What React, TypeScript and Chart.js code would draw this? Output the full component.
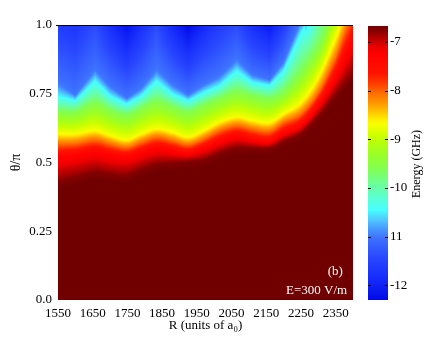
import React, { useEffect, useRef } from "react";
import { Chart, registerables } from "chart.js";

Chart.register(...registerables);

const FONT = "'Liberation Serif', 'Times New Roman', Times, serif";

// ---- axes / ticks ----
const xTickValues = [1550, 1650, 1750, 1850, 1950, 2050, 2150, 2250, 2350];
const yTickValues = [0, 0.25, 0.5, 0.75, 1];
const yTickLabels = ["0.0", "0.25", "0.5", "0.75", "1.0"];
const cbTickValues = [-7, -8, -9, -10, -11, -12];
const cbTickLabels = ["-7", "-8", "-9", "-10", "11", "-12"];

// ---- field data: contour positions (theta/pi) of energy levels, read per R ----
const rSamples = [1550, 1600, 1657, 1700, 1748, 1790, 1834, 1880, 1925, 1970, 2015, 2065, 2110, 2160, 2200, 2250, 2300, 2350, 2400];
const levelValues = [-6.75, -7.3, -8.1, -8.7, -9.6, -10.5, -11.0];
const thetaLevel1 = [0.429, 0.444, 0.462, 0.455, 0.451, 0.473, 0.491, 0.497, 0.503, 0.509, 0.533, 0.552, 0.552, 0.552, 0.576, 0.606, 0.667, 0.745, 0.818];
const thetaLevel2 = [0.521, 0.527, 0.539, 0.527, 0.521, 0.536, 0.552, 0.543, 0.533, 0.552, 0.576, 0.596, 0.582, 0.576, 0.606, 0.636, 0.709, 0.812, 0.945];
const thetaLevel3 = [0.570, 0.572, 0.584, 0.570, 0.557, 0.576, 0.594, 0.582, 0.567, 0.588, 0.618, 0.636, 0.624, 0.616, 0.648, 0.679, 0.757, 0.885, null];
const thetaLevel4 = [0.606, 0.606, 0.618, 0.600, 0.584, 0.606, 0.624, 0.612, 0.594, 0.618, 0.648, 0.667, 0.655, 0.648, 0.679, 0.721, 0.812, 0.957, null];
const thetaLevel5 = [0.685, 0.685, 0.715, 0.691, 0.673, 0.697, 0.721, 0.703, 0.685, 0.709, 0.733, 0.757, 0.745, 0.733, 0.757, 0.829, 0.921, null, null];
const thetaLevel6 = [0.745, 0.727, 0.800, 0.745, 0.715, 0.745, 0.800, 0.752, 0.727, 0.757, 0.782, 0.836, 0.794, 0.782, 0.836, 0.975, null, null, null];
const thetaLevel7 = [0.788, 0.745, 0.836, 0.776, 0.733, 0.770, 0.836, 0.782, 0.745, 0.782, 0.812, 0.873, 0.818, 0.800, 0.865, null, null, null, null];
// R where a level leaves the top of the plot (theta = 1)
const levelExitR = [null, null, 2382, 2363, 2329, 2262, 2245];
// energy at theta/pi = 1 for each R sample
const topValues = [-11.6, -11.7, -11.4, -11.8, -12.2, -11.8, -11.4, -11.9, -12.3, -11.9, -11.6, -11.4, -11.8, -12.1, -11.6, -10.9, -10.0, -9.0, -7.7];

const levelThetas = [thetaLevel1, thetaLevel2, thetaLevel3, thetaLevel4, thetaLevel5, thetaLevel6, thetaLevel7];
// lower (warm) contours are smooth waves; the blue/cyan ones have cusps
const smoothLevels = [true, true, true, true, true, false, false];

// ---- colour map (energy -> rgb) ----
const cmapValues = [-12.3, -11.9, -11.45, -11.05, -10.85, -10.65, -10.45, -10.2, -9.9, -9.6, -9.25, -8.95, -8.7, -8.6, -8.45, -8.25, -8.05, -7.85, -7.65, -7.25, -7.1, -7.0, -6.9, -6.78, -6.65];
const cmapColors = [
  [0, 10, 230], [20, 40, 250], [40, 70, 255], [60, 110, 255], [70, 150, 255], [80, 200, 255],
  [70, 255, 255], [90, 255, 210], [110, 255, 150], [130, 255, 80], [160, 255, 30], [200, 255, 0],
  [245, 255, 0], [255, 240, 0], [255, 200, 0], [255, 150, 0], [255, 110, 0], [255, 60, 0],
  [255, 20, 0], [255, 0, 0], [235, 0, 0], [200, 0, 0], [175, 0, 0], [135, 0, 0], [112, 0, 0],
];
const cbMin = -12.3;
const cbMax = -6.65;

function lerp(a: number, b: number, t: number) { return a + (b - a) * t; }

function colorFor(v: number): number[] {
  if (v <= cmapValues[0]) return cmapColors[0];
  const n = cmapValues.length;
  if (v >= cmapValues[n - 1]) return cmapColors[n - 1];
  for (let i = 0; i < n - 1; i++) {
    if (v <= cmapValues[i + 1]) {
      const t = (v - cmapValues[i]) / (cmapValues[i + 1] - cmapValues[i]);
      const a = cmapColors[i], b = cmapColors[i + 1];
      return [lerp(a[0], b[0], t), lerp(a[1], b[1], t), lerp(a[2], b[2], t)];
    }
  }
  return cmapColors[n - 1];
}

function segment(R: number) {
  let i = 0;
  while (i < rSamples.length - 2 && R > rSamples[i + 1]) i++;
  return i;
}

function tangent(th: (number | null)[], i: number): number {
  const n = th.length;
  const prev = i > 0 && th[i - 1] != null ? i - 1 : i;
  const next = i < n - 1 && th[i + 1] != null ? i + 1 : i;
  if (prev === next) return 0;
  return ((th[next] as number) - (th[prev] as number)) / (rSamples[next] - rSamples[prev]);
}

function levelThetaAt(k: number, R: number): number | null {
  const th = levelThetas[k];
  const i = segment(R);
  const r0 = rSamples[i], r1 = rSamples[i + 1];
  const a = th[i], b = th[i + 1];
  if (a == null) return null;
  if (b != null) {
    const t = Math.max(0, Math.min(1, (R - r0) / (r1 - r0)));
    if (!smoothLevels[k]) return lerp(a, b, t);
    const h = r1 - r0;
    const m0 = tangent(th, i), m1 = tangent(th, i + 1);
    const t2 = t * t, t3 = t2 * t;
    return (2 * t3 - 3 * t2 + 1) * a + (t3 - 2 * t2 + t) * h * m0 + (-2 * t3 + 3 * t2) * b + (t3 - t2) * h * m1;
  }
  const ex = levelExitR[k];
  if (ex == null || R > ex) return null;
  return lerp(a, 1, Math.max(0, (R - r0) / (ex - r0)));
}

function columnProfile(R: number): number[][] {
  const pts: number[][] = [];
  for (let k = 0; k < levelValues.length; k++) {
    const th = levelThetaAt(k, R);
    if (th != null && th < 1) {
      const prevTh = pts.length ? pts[pts.length - 1][0] : -1;
      pts.push([Math.max(th, prevTh + 0.001), levelValues[k]]);
    }
  }
  const i = segment(R);
  const t = Math.max(0, Math.min(1, (R - rSamples[i]) / (rSamples[i + 1] - rSamples[i])));
  let top = lerp(topValues[i], topValues[i + 1], t);
  const lastV = pts.length ? pts[pts.length - 1][1] : levelValues[0];
  top = Math.min(top, lastV - 0.05);
  pts.push([1, top]);
  return pts;
}

function valueAt(pts: number[][], th: number) {
  if (th <= pts[0][0]) return pts[0][1] + (pts[0][0] - th) * 4;
  for (let j = 0; j < pts.length - 1; j++) {
    if (th <= pts[j + 1][0]) {
      const t = (th - pts[j][0]) / (pts[j + 1][0] - pts[j][0]);
      return lerp(pts[j][1], pts[j + 1][1], t);
    }
  }
  return pts[pts.length - 1][1];
}

const heatmapPlugin = {
  id: "heatmap",
  beforeDatasetsDraw(chart: any) {
    const { ctx, chartArea } = chart;
    const xs = chart.scales.x, ys = chart.scales.y;
    const left = Math.round(chartArea.left), top = Math.round(chartArea.top);
    const w = Math.round(chartArea.right) - left;
    const h = Math.round(chartArea.bottom) - top;
    const off = document.createElement("canvas");
    off.width = w; off.height = h;
    const octx = off.getContext("2d")!;
    const img = octx.createImageData(w, h);
    for (let i = 0; i < w; i++) {
      const R = xs.getValueForPixel(left + i + 0.5);
      const prof = columnProfile(R);
      for (let j = 0; j < h; j++) {
        const th = ys.getValueForPixel(top + j + 0.5);
        const c = colorFor(valueAt(prof, th));
        const p = (j * w + i) * 4;
        img.data[p] = c[0]; img.data[p + 1] = c[1]; img.data[p + 2] = c[2]; img.data[p + 3] = 255;
      }
    }
    octx.putImageData(img, 0, 0);
    ctx.save();
    ctx.drawImage(off, left, top);
    ctx.fillStyle = "#000";
    ctx.fillRect(left - 2, top, w + 2, 1);
    ctx.restore();
  },
  afterDraw(chart: any) {
    const { ctx, chartArea } = chart;
    const y2 = chart.scales.y2;
    const xs = chart.scales.x, ys = chart.scales.y;
    ctx.save();
    const cbLeft = Math.round(chartArea.right) + 15;
    const cbW = 20;
    const pTop = Math.round(y2.getPixelForValue(cbMax)) + 1;
    const pBot = Math.round(y2.getPixelForValue(cbMin));
    for (let py = pTop; py < pBot; py++) {
      const c = colorFor(y2.getValueForPixel(py + 0.5));
      ctx.fillStyle = `rgb(${Math.round(c[0])},${Math.round(c[1])},${Math.round(c[2])})`;
      ctx.fillRect(cbLeft, py, cbW, 1);
    }
    ctx.fillStyle = "#000";
    cbTickValues.forEach((v) => {
      const py = Math.round(y2.getPixelForValue(v));
      ctx.fillRect(cbLeft, py, 3, 1);
      ctx.fillRect(cbLeft + cbW - 3, py, 3, 1);
    });
    ctx.font = `12px ${FONT}`;
    ctx.textAlign = "center";
    ctx.textBaseline = "middle";
    ctx.translate(cbLeft + 48.5, (y2.top + y2.bottom) / 2 + 1.5);
    ctx.rotate(-Math.PI / 2);
    ctx.fillText("Energy (GHz)", 0, 0);
    ctx.restore();

    ctx.save();
    ctx.fillStyle = "#fff";
    ctx.font = `13px ${FONT}`;
    ctx.textAlign = "right";
    ctx.textBaseline = "middle";
    ctx.fillText("(b)", xs.getPixelForValue(2371), ys.getPixelForValue(0.102));
    ctx.fillText("E=300 V/m", xs.getPixelForValue(2383), ys.getPixelForValue(0.033));
    ctx.restore();
  },
};

function zeroPad(s: any) {
  s.paddingTop = 0; s.paddingBottom = 0; s.paddingLeft = 0; s.paddingRight = 0;
}

export default function App() {
  const ref = useRef<HTMLCanvasElement>(null);
  useEffect(() => {
    const tickFont = { family: FONT, size: 13 };
    const chart = new Chart(ref.current!, {
      type: "scatter",
      data: { datasets: [{ data: [] }] },
      options: {
        animation: false,
        responsive: true,
        maintainAspectRatio: false,
        layout: { padding: { top: 25, left: 0, right: 0, bottom: 0 } },
        plugins: { legend: { display: false }, tooltip: { enabled: false } },
        scales: {
          x: {
            type: "linear",
            min: 1550,
            max: 2400,
            afterBuildTicks: (s: any) => { s.ticks = xTickValues.map((v) => ({ value: v })); },
            afterFit: (s: any) => { s.height = 37; zeroPad(s); },
            grid: { display: false, drawTicks: false },
            border: { display: false },
            ticks: { autoSkip: false, maxRotation: 0, color: "#000", font: tickFont, padding: 6, callback: (v: any) => String(v) },
            title: { display: true, text: "R (units of a\u2080)", color: "#000", font: tickFont, padding: { top: 0, bottom: 4 } },
          },
          y: {
            type: "linear",
            min: 0,
            max: 1,
            afterBuildTicks: (s: any) => { s.ticks = yTickValues.map((v) => ({ value: v })); },
            afterFit: (s: any) => { s.width = 58; zeroPad(s); },
            grid: { display: false, drawTicks: false },
            border: { display: false },
            ticks: { autoSkip: false, color: "#000", font: tickFont, padding: 6, callback: (_v: any, i: number) => yTickLabels[i] },
            title: { display: true, text: "\u03b8/\u03c0", color: "#000", font: { family: FONT, size: 14 }, padding: { top: 8, bottom: 0 } },
          },
          y2: {
            type: "linear",
            position: "right",
            min: cbMin,
            max: cbMax,
            afterBuildTicks: (s: any) => { s.ticks = cbTickValues.map((v) => ({ value: v })); },
            afterFit: (s: any) => { s.width = 94; zeroPad(s); },
            grid: { display: false, drawTicks: false },
            border: { display: false },
            ticks: { autoSkip: false, color: "#000", font: tickFont, padding: 37, callback: (_v: any, i: number) => cbTickLabels[i] },
          },
        },
      },
      plugins: [heatmapPlugin],
    } as any);
    return () => chart.destroy();
  }, []);
  return (
    <div style={{ position: "fixed", left: 0, top: 0, width: 447, height: 337 }}>
      <canvas ref={ref} />
    </div>
  );
}
